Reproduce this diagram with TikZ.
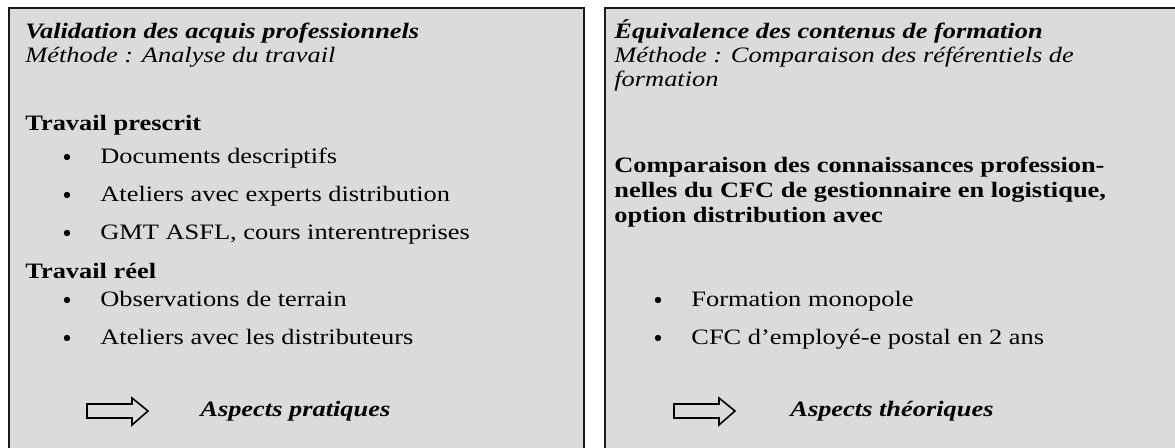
\documentclass[tikz,border=0pt]{standalone}
\usepackage{fontspec}
\setmainfont[FakeStretch=1.2]{Liberation Serif}
\begin{document}
\begin{tikzpicture}[x=0.5pt,y=-0.5pt,
  panel/.style={draw=black!90,line width=1pt,fill=black!14},
  txt/.style={anchor=base west,inner sep=0pt,font=\fontsize{11pt}{13pt}\selectfont},
  ttl/.style={txt,font=\fontsize{11pt}{13pt}\selectfont\bfseries\itshape},
  meth/.style={txt,font=\fontsize{11pt}{13pt}\selectfont\itshape},
  hdr/.style={txt,font=\fontsize{11pt}{13pt}\selectfont\bfseries},
  bul/.style={circle,fill=black,inner sep=0pt,minimum size=3.2pt},
  bigarrow/.style={draw=black,line width=0.8pt,fill=black!14}]
\useasboundingbox (0,0) rectangle (1175,448);
% panels
\draw[panel] (9,8) rectangle (584,470);
\draw[panel] (605,8) rectangle (1200,470);
% left panel
\node[ttl]  (l1) at (25,39) {Validation des acquis professionnels};
\node[meth] (l2) at (25,63) {Méthode : Analyse du travail};
\node[hdr]  (l3) at (25,131) {Travail prescrit};
\node[bul]  (lb1) at (67,157) {};
\node[txt]  (lt1) at (100,164) {Documents descriptifs};
\node[bul]  (lb2) at (67,195) {};
\node[txt]  (lt2) at (100,202) {Ateliers avec experts distribution};
\node[bul]  (lb3) at (67,233) {};
\node[txt]  (lt3) at (100,240) {GMT ASFL, cours interentreprises};
\node[hdr]  (l4) at (25,279) {Travail réel};
\node[bul]  (lb4) at (67,300) {};
\node[txt]  (lt4) at (100,307) {Observations de terrain};
\node[bul]  (lb5) at (67,338) {};
\node[txt]  (lt5) at (100,345) {Ateliers avec les distributeurs};
\draw[bigarrow] (87,404) -- (132,404) -- (132,398) -- (148,411) -- (132,425) -- (132,418) -- (87,418) -- cycle;
\node[ttl]  (la) at (200,417) {Aspects pratiques};
% right panel
\node[ttl]  (r1) at (614,39) {Équivalence des contenus de formation};
\node[meth] (r2) at (614,63) {Méthode : Comparaison des référentiels de};
\node[meth] (r3) at (614,87) {formation};
\node[hdr]  (r4) at (614,173) {Comparaison des connaissances profession-};
\node[hdr]  (r5) at (614,198) {nelles du CFC de gestionnaire en logistique,};
\node[hdr]  (r6) at (614,223) {option distribution avec};
\node[bul]  (rb1) at (658,300) {};
\node[txt]  (rt1) at (691,307) {Formation monopole};
\node[bul]  (rb2) at (658,338) {};
\node[txt]  (rt2) at (691,345) {CFC d’employé-e postal en 2 ans};
\draw[bigarrow] (674,404) -- (719,404) -- (719,398) -- (735,411) -- (719,425) -- (719,418) -- (674,418) -- cycle;
\node[ttl]  (ra) at (790,417) {Aspects théoriques};
\end{tikzpicture}
\end{document}
